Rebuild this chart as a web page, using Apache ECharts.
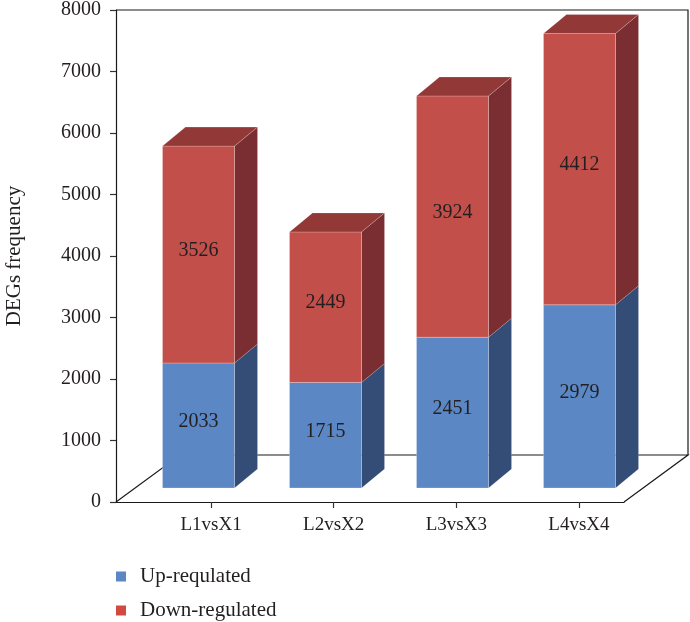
<!DOCTYPE html>
<html>
<head>
<meta charset="utf-8">
<script src="https://cdn.jsdelivr.net/npm/echarts@6/dist/echarts.min.js"></script>
<style>
  html, body { margin: 0; padding: 0; background: #fff; }
  #chart { width: 690px; height: 622px; }
</style>
</head>
<body>
<div id="chart"></div>
<script>
// DEG counts per comparison
const categories = ['L1vsX1', 'L2vsX2', 'L3vsX3', 'L4vsX4'];
const upRegulated = [2033, 1715, 2451, 2979];
const downRegulated = [3526, 2449, 3924, 4412];
const yMin = 0, yMax = 8000, yStep = 1000;
const seriesNames = ['Up-requlated', 'Down-regulated'];

const FONT = '"Liberation Serif", "Times New Roman", serif';
const TEXT = '#231f20';

// face colours for the pseudo-3D columns
const faces = {
  up:   { front: '#5b87c4', side: '#344d77', top: '#4a6fa3', legend: '#5b87c4' },
  down: { front: '#c24f4a', side: '#7a2e31', top: '#923938', legend: '#d24a3f' }
};

// depth of a column and of the floor, in pixels (oblique projection)
const BAR_DEPTH = [23, -19];
const FLOOR_DEPTH = [64, -47];
const BAR_SHIFT = [19, -14];   // columns stand a little back from the front edge

function columnRenderer(palette, isTop) {
  return function (params, api) {
    const i = api.value(0);
    const lo = api.coord([i, api.value(1)]);
    const hi = api.coord([i, api.value(2)]);
    const band = api.size([1, 0])[0];
    const w = band * 0.567;
    const x0 = lo[0] - w / 2 + BAR_SHIFT[0];
    const x1 = x0 + w;
    const yb = lo[1] + BAR_SHIFT[1];
    const yt = hi[1] + BAR_SHIFT[1];
    const [dx, dy] = BAR_DEPTH;
    const children = [
      {
        type: 'polygon',
        shape: { points: [[x1, yb], [x1 + dx, yb + dy], [x1 + dx, yt + dy], [x1, yt]] },
        style: { fill: palette.side, stroke: 'rgba(255,255,255,0.18)', lineWidth: 0.8 }
      },
      {
        type: 'rect',
        shape: { x: x0, y: yt, width: w, height: yb - yt },
        style: { fill: palette.front, stroke: 'rgba(255,255,255,0.3)', lineWidth: 0.8 }
      }
    ];
    if (isTop) {
      children.push({
        type: 'polygon',
        shape: { points: [[x0, yt], [x1, yt], [x1 + dx, yt + dy], [x0 + dx, yt + dy]] },
        style: { fill: palette.top, stroke: 'rgba(255,255,255,0.25)', lineWidth: 0.8 }
      });
    }
    children.push({
      type: 'text',
      style: {
        text: String(api.value(2) - api.value(1)),
        x: x0 + w / 2,
        y: (yb + yt) / 2 - 4,
        align: 'center',
        verticalAlign: 'middle',
        fill: TEXT,
        font: '20px ' + FONT
      }
    });
    return { type: 'group', children: children };
  };
}

// frame: floor parallelogram, right wall edge and top edge
function frameRenderer(params, api) {
  const cs = params.coordSys;
  const xl = cs.x, xr = cs.x + cs.width, yt = cs.y, yb = cs.y + cs.height;
  const [dx, dy] = FLOOR_DEPTH;
  const st = { stroke: '#1a1a1a', lineWidth: 1.2, fill: null };
  return {
    type: 'group',
    children: [
      { type: 'polyline', shape: { points: [[xl, yb], [xl + dx, yb + dy], [xr + dx, yb + dy], [xr, yb]] }, style: st },
      { type: 'polyline', shape: { points: [[xl, yt], [xr + dx, yt], [xr + dx, yb + dy]] }, style: st }
    ]
  };
}

const upData = categories.map((c, i) => [i, 0, upRegulated[i]]);
const downData = categories.map((c, i) => [i, upRegulated[i], upRegulated[i] + downRegulated[i]]);

const legendBase = {
  orient: 'vertical',
  left: 116,
  padding: 0,
  icon: 'rect',
  itemWidth: 10,
  itemHeight: 10,
  textStyle: { fontFamily: FONT, fontSize: 21, color: TEXT, padding: [0, 0, 0, 9] }
};

const chart = echarts.init(document.getElementById('chart'), null, { renderer: 'canvas' });
chart.setOption({
  animation: false,
  backgroundColor: '#fff',
  grid: [
    { left: 116, right: 66, top: 10, bottom: 120, outerBoundsMode: 'none', containLabel: false },
    { left: 149.7, right: 49.7, top: 10, bottom: 120, outerBoundsMode: 'none', containLabel: false }
  ],
  legend: [
    Object.assign({}, legendBase, { data: [seriesNames[0]], top: 566 }),
    Object.assign({}, legendBase, { data: [seriesNames[1]], top: 600 })
  ],
  xAxis: [
    {
      type: 'category',
      gridIndex: 0,
      data: categories,
      axisLine: { show: true, lineStyle: { color: '#1a1a1a', width: 1.2 } },
      axisTick: { show: false },
      axisLabel: { show: false }
    },
    {
      type: 'category',
      gridIndex: 1,
      data: categories,
      axisLine: { show: false },
      axisTick: { show: true, alignWithLabel: true, length: 6, lineStyle: { color: '#333', width: 1.2 } },
      axisLabel: { fontFamily: FONT, fontSize: 19, color: TEXT, margin: 14 }
    }
  ],
  yAxis: [
    {
      type: 'value',
      gridIndex: 0,
      min: yMin,
      max: yMax,
      interval: yStep,
      name: 'DEGs frequency',
      nameLocation: 'middle',
      nameRotate: 90,
      nameGap: 91,
      nameTextStyle: { fontFamily: FONT, fontSize: 21, color: TEXT },
      axisLine: { show: true, lineStyle: { color: '#1a1a1a', width: 1.2 } },
      axisTick: { show: true, length: 6, lineStyle: { color: '#333', width: 1.2 } },
      axisLabel: { fontFamily: FONT, fontSize: 20, color: TEXT, margin: 15, formatter: v => String(v) },
      splitLine: { show: false }
    },
    {
      type: 'value',
      gridIndex: 1,
      min: yMin,
      max: yMax,
      show: false
    }
  ],
  series: [
    {
      type: 'custom',
      name: 'frame',
      xAxisIndex: 0,
      yAxisIndex: 0,
      z: 1,
      silent: true,
      clip: false,
      data: [[0, 0]],
      renderItem: frameRenderer
    },
    {
      type: 'custom',
      name: seriesNames[0],
      xAxisIndex: 0,
      yAxisIndex: 0,
      z: 2,
      clip: false,
      itemStyle: { color: faces.up.legend },
      encode: { x: 0, y: [1, 2] },
      data: upData,
      renderItem: columnRenderer(faces.up, false)
    },
    {
      type: 'custom',
      name: seriesNames[1],
      xAxisIndex: 0,
      yAxisIndex: 0,
      z: 3,
      clip: false,
      itemStyle: { color: faces.down.legend },
      encode: { x: 0, y: [1, 2] },
      data: downData,
      renderItem: columnRenderer(faces.down, true)
    }
  ]
});
</script>
</body>
</html>
